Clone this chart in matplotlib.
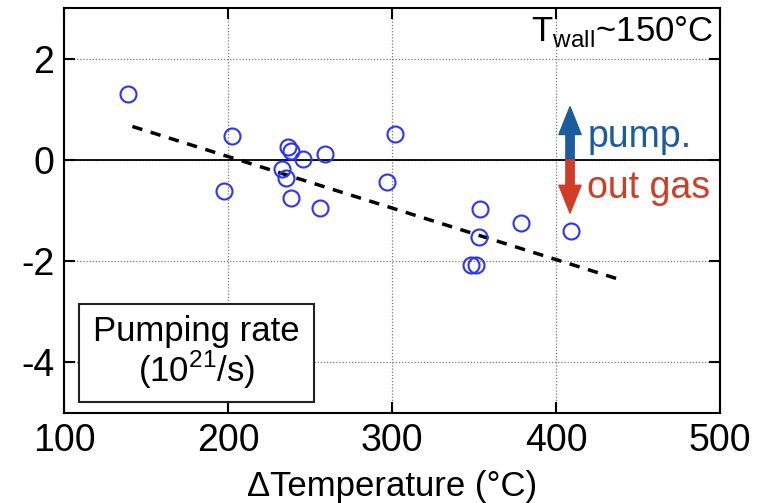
import matplotlib
matplotlib.use("Agg")
import matplotlib.pyplot as plt
from matplotlib.patches import Rectangle

plt.rcParams['font.family'] = ['Liberation Sans', 'DejaVu Sans']
plt.rcParams['axes.unicode_minus'] = False

# measured points: delta temperature (C) vs pumping rate (1e21/s)
delta_t = [138.8, 202.6, 197.6, 236.4, 238.2, 245.7, 259.3, 232.7, 235.4, 238.2,
           256.3, 296.8, 301.8, 353.7, 378.7, 409.1, 353.0, 348.0, 351.2]
pump_rate = [1.30, 0.48, -0.61, 0.26, 0.18, 0.01, 0.12, -0.18, -0.36, -0.75,
             -0.96, -0.44, 0.52, -0.97, -1.24, -1.41, -1.53, -2.07, -2.07]

# fitted trend line end points
fit_x = [141.7, 438.4]
fit_y = [0.66, -2.36]

x_ticks = [100, 200, 300, 400, 500]
y_ticks = [-4, -2, 0, 2]

blue_arrow = '#1a5c9c'
red_arrow = '#d03c26'

fig = plt.figure(figsize=(7.71, 5.03), dpi=100)
ax = fig.add_axes([0.083, 0.179, 0.851, 0.805])

ax.set_xlim(100, 500)
ax.set_ylim(-5, 3)
ax.set_xticks(x_ticks)
ax.set_yticks(y_ticks)
ax.tick_params(direction='in', length=8, width=1.5, top=True, right=True,
               labelsize=27, pad=7)
for s in ax.spines.values():
    s.set_linewidth(1.5)

# dotted grid, solid zero line
ax.grid(True, linestyle=(0, (1, 1.5)), color='#777777', linewidth=0.9)
ax.axhline(0, color='black', linewidth=1.3, zorder=2)

ax.plot(fit_x, fit_y, color='black', linestyle=(0, (3, 2.5)), linewidth=2.5, zorder=3)
ax.plot(delta_t, pump_rate, 'o', markersize=11.5, markerfacecolor='none',
        markeredgecolor='#2b35f5', markeredgewidth=1.5, zorder=4)

# pump / out gas arrows
arrow_x = 408.5
ax.annotate('', xy=(arrow_x, 1.05), xytext=(arrow_x, 0),
            arrowprops=dict(arrowstyle='simple,head_length=1.0,head_width=0.8,tail_width=0.3',
                            color=blue_arrow, shrinkA=0, shrinkB=0, mutation_scale=20), zorder=5)
ax.annotate('', xy=(arrow_x, -1.05), xytext=(arrow_x, 0),
            arrowprops=dict(arrowstyle='simple,head_length=1.0,head_width=0.8,tail_width=0.3',
                            color=red_arrow, shrinkA=0, shrinkB=0, mutation_scale=20), zorder=5)
ax.text(419, 0.45, 'pump.', color=blue_arrow, fontsize=27, va='center', ha='left')
ax.text(419, -0.55, 'out gas', color=red_arrow, fontsize=27, va='center', ha='left')

ax.text(0.99, 0.985, r'T$_{\mathregular{wall}}$~150°C', transform=ax.transAxes,
        fontsize=25, ha='right', va='top')

ax.add_patch(Rectangle((0.023, 0.027), 0.358, 0.242, transform=ax.transAxes,
                       fill=True, facecolor='white', edgecolor='#222222', linewidth=1.5, zorder=6))
ax.text(0.202, 0.148, 'Pumping rate\n(10$^{\\mathregular{21}}$/s)', transform=ax.transAxes,
        fontsize=25, ha='center', va='center', linespacing=1.05, zorder=7)

ax.set_xlabel('ΔTemperature (°C)', fontsize=25, labelpad=8)

fig.savefig('out.png', dpi=100)
